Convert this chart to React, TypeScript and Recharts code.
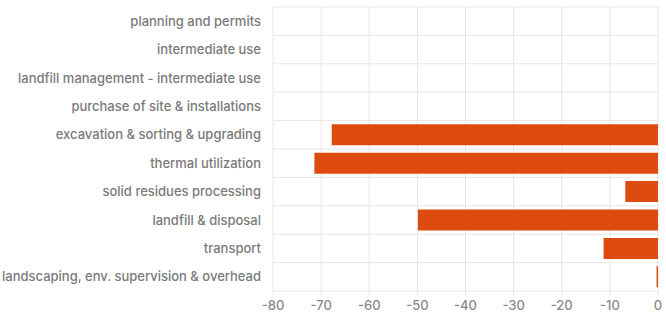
import { Bar, BarChart, CartesianGrid, XAxis, YAxis } from "recharts";

const categories = [
  "planning and permits",
  "intermediate use",
  "landfill management - intermediate use",
  "purchase of site & installations",
  "excavation & sorting & upgrading",
  "thermal utilization",
  "solid residues processing",
  "landfill & disposal",
  "transport",
  "landscaping, env. supervision & overhead",
];

const values = [0, 0, 0, 0, -67.8, -71.4, -6.8, -49.9, -11.3, -0.3];

const xTicks = [-80, -70, -60, -50, -40, -30, -20, -10, 0];

const data = categories.map((name, i) => ({ name, value: values[i] }));

export default function App() {
  return (
    <div style={{ position: "absolute", left: 0, top: 0, fontFamily: "Inter, sans-serif" }}>
      <BarChart
        width={666}
        height={321}
        data={data}
        layout="vertical"
        margin={{ top: 7, right: 8, left: 0, bottom: 0 }}
        barCategoryGap="13%"
      >
        <CartesianGrid
          stroke="#e6e6e6"
          horizontalCoordinatesGenerator={({ offset }: any) =>
            categories.map((_, i) => offset.top + (i * offset.height) / categories.length).concat(offset.top + offset.height)
          }
        />
        <XAxis
          type="number"
          domain={[-80, 0]}
          ticks={xTicks}
          axisLine={false}
          tickLine={{ stroke: "#e6e6e6" }}
          tickSize={4}
          tickMargin={6}
          height={30}
          tick={{ fill: "#8a8a8a", fontSize: 13, fontWeight: 500 }}
        />
        <YAxis
          type="category"
          dataKey="name"
          width={273}
          axisLine={false}
          tickLine={false}
          tickSize={10}
          tickMargin={2}
          interval={0}
          tick={{ fill: "#7a7a7a", fontSize: 13, fontWeight: 500 }}
        />
        <Bar dataKey="value" fill="#dd4b10" isAnimationActive={false} />
      </BarChart>
    </div>
  );
}
